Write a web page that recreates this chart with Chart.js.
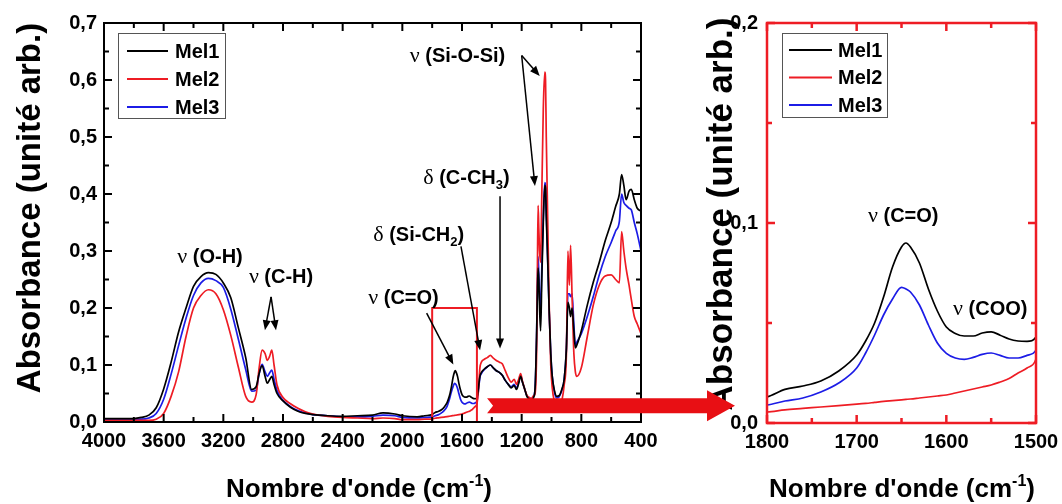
<!DOCTYPE html>
<html>
<head>
<meta charset="utf-8">
<script src="https://cdn.jsdelivr.net/npm/chart.js@4.4.1/dist/chart.umd.min.js"></script>
<style>
  html, body { margin: 0; padding: 0; background: #fff; }
  #wrap { position: relative; width: 1062px; height: 504px; overflow: hidden; }
  canvas { position: absolute; top: 0; }
  #main { left: 0; }
  #zoom { left: 660px; }
  #over { left: 0; pointer-events: none; }
</style>
</head>
<body>
<div id="wrap">
  <canvas id="main" width="660" height="504"></canvas>
  <canvas id="zoom" width="402" height="504"></canvas>
  <canvas id="over" width="1062" height="504"></canvas>
</div>
<script>
// wavenumber grid (cm-1) shared by the three spectra
const wavenumber = [
  4000, 3900, 3800, 3750, 3700, 3650, 3600, 3550, 3500, 3450,
  3400, 3350, 3300, 3250, 3200, 3150, 3100, 3050, 3010, 2980,
  2960, 2940, 2920, 2905, 2890, 2875, 2860, 2840, 2800, 2750,
  2700, 2650, 2600, 2500, 2400, 2300, 2200, 2130, 2050, 2000,
  1900, 1850, 1800, 1780, 1760, 1740, 1720, 1700, 1690, 1680,
  1670, 1660, 1650, 1645, 1640, 1630, 1620, 1610, 1600, 1590,
  1580, 1570, 1560, 1550, 1540, 1530, 1520, 1510, 1500, 1490,
  1480, 1470, 1450, 1430, 1410, 1390, 1370, 1350, 1330, 1310,
  1290, 1270, 1250, 1235, 1220, 1207, 1195, 1180, 1165, 1150,
  1135, 1120, 1110, 1100, 1095, 1090, 1085, 1080, 1073, 1065,
  1055, 1045, 1040, 1035, 1025, 1015, 1005, 995, 980, 965,
  950, 930, 915, 900, 890, 880, 872, 862, 850, 840,
  830, 800, 760, 720, 680, 640, 600, 570, 545, 530,
  515, 500, 480, 465, 445, 425, 400
];

const mel1 = [
  0.006, 0.006, 0.006, 0.008, 0.012, 0.025, 0.058, 0.105, 0.158, 0.2,
  0.238, 0.255, 0.262, 0.259, 0.244, 0.218, 0.166, 0.113, 0.057, 0.062,
  0.085, 0.099, 0.08, 0.068, 0.074, 0.08, 0.066, 0.05, 0.037, 0.026,
  0.019, 0.015, 0.013, 0.011, 0.01, 0.011, 0.012, 0.016, 0.014, 0.011,
  0.009, 0.011, 0.013, 0.0168, 0.0185, 0.021, 0.026, 0.034, 0.041, 0.05,
  0.063, 0.078, 0.088, 0.09, 0.088, 0.08, 0.067, 0.056, 0.048, 0.0448,
  0.0435, 0.0435, 0.045, 0.0456, 0.0439, 0.042, 0.041, 0.0408, 0.043, 0.06,
  0.08, 0.087, 0.093, 0.097, 0.1, 0.095, 0.09, 0.087, 0.082, 0.073,
  0.066, 0.06, 0.064, 0.057, 0.068, 0.08, 0.07, 0.058, 0.045, 0.04,
  0.038, 0.043, 0.06, 0.15, 0.22, 0.27, 0.25, 0.2, 0.16, 0.25,
  0.35, 0.415, 0.41, 0.36, 0.28, 0.19, 0.12, 0.08, 0.055, 0.045,
  0.046, 0.058, 0.075, 0.13, 0.21, 0.2, 0.185, 0.2, 0.16, 0.13,
  0.135, 0.16, 0.205, 0.245, 0.28, 0.318, 0.35, 0.378, 0.4, 0.434,
  0.415, 0.39, 0.405, 0.408, 0.39, 0.375, 0.37
];

const mel2 = [
  0.003, 0.003, 0.003, 0.003, 0.003, 0.005, 0.015, 0.045, 0.088, 0.15,
  0.2, 0.222, 0.232, 0.225, 0.197, 0.152, 0.097, 0.045, 0.035, 0.048,
  0.095, 0.126, 0.12, 0.108, 0.115, 0.126, 0.1, 0.065, 0.043, 0.032,
  0.024, 0.018, 0.014, 0.01, 0.008, 0.007, 0.006, 0.007, 0.006, 0.004,
  0.004, 0.005, 0.0055, 0.0066, 0.0073, 0.008, 0.0087, 0.0094, 0.0098, 0.0103,
  0.0108, 0.0112, 0.0116, 0.0118, 0.012, 0.0125, 0.013, 0.0135, 0.014, 0.015,
  0.016, 0.017, 0.018, 0.019, 0.0205, 0.0222, 0.025, 0.0275, 0.032, 0.055,
  0.095, 0.105, 0.11, 0.113, 0.117, 0.112, 0.108, 0.105, 0.102, 0.09,
  0.078, 0.07, 0.075, 0.066, 0.075, 0.085, 0.072, 0.058, 0.047, 0.043,
  0.041, 0.046, 0.05, 0.12, 0.25, 0.38, 0.34, 0.3, 0.28, 0.4,
  0.55, 0.614, 0.6, 0.5, 0.35, 0.2, 0.1, 0.06, 0.035, 0.026,
  0.025, 0.038, 0.065, 0.12, 0.3, 0.24, 0.31, 0.22, 0.12, 0.088,
  0.08, 0.095, 0.15, 0.205, 0.24, 0.256, 0.258, 0.25, 0.244, 0.334,
  0.3, 0.27, 0.24, 0.215, 0.185, 0.172, 0.155
];

const mel3 = [
  0.005, 0.005, 0.005, 0.005, 0.007, 0.015, 0.04, 0.084, 0.134, 0.182,
  0.222, 0.244, 0.252, 0.248, 0.236, 0.198, 0.146, 0.092, 0.054, 0.056,
  0.085, 0.101, 0.088, 0.08, 0.086, 0.091, 0.075, 0.055, 0.038, 0.027,
  0.02, 0.016, 0.013, 0.011, 0.009, 0.009, 0.01, 0.012, 0.011, 0.008,
  0.007, 0.008, 0.009, 0.011, 0.0125, 0.0155, 0.02, 0.0275, 0.035, 0.044,
  0.054, 0.062, 0.0678, 0.067, 0.0655, 0.059, 0.049, 0.04, 0.0348, 0.0325,
  0.0318, 0.0328, 0.0343, 0.035, 0.0338, 0.0325, 0.0325, 0.0338, 0.0364, 0.055,
  0.078, 0.085, 0.092, 0.097, 0.1, 0.095, 0.09, 0.087, 0.082, 0.073,
  0.066, 0.062, 0.066, 0.059, 0.07, 0.082, 0.07, 0.058, 0.046, 0.043,
  0.041, 0.045, 0.06, 0.15, 0.23, 0.29, 0.26, 0.22, 0.2, 0.27,
  0.36, 0.42, 0.415, 0.37, 0.28, 0.19, 0.12, 0.08, 0.052, 0.042,
  0.044, 0.056, 0.075, 0.13, 0.225, 0.225, 0.22, 0.225, 0.17, 0.135,
  0.14, 0.155, 0.185, 0.22, 0.258, 0.29, 0.315, 0.335, 0.352, 0.4,
  0.385, 0.38, 0.375, 0.372, 0.35, 0.33, 0.3
];

const seriesNames = ['Mel1', 'Mel2', 'Mel3'];
const seriesColors = ['#000000', '#ee1c24', '#1c1ce6'];
const seriesValues = [mel1, mel2, mel3];

const SANS = '"Liberation Sans", Arial, sans-serif';
const SERIF = '"Liberation Serif", "Times New Roman", serif';
const RED = '#ee1c24';

const greek = s => ({ t: s + ' ', font: '22px ' + SERIF });
const bold = s => ({ t: s, font: 'bold 20px ' + SANS });
const sub = s => ({ t: s, font: 'bold 13px ' + SANS, dy: 5 });

// band labels, placed in data coordinates (wavenumber, absorbance)
const mainNotes = [
  { parts: [greek('ν'), bold('(O-H)')], x: 3289, y: 0.279 },
  { parts: [greek('ν'), bold('(C-H)')], x: 2813, y: 0.244 },
  { parts: [greek('ν'), bold('(C=O)')], x: 1992, y: 0.207 },
  { parts: [greek('δ'), bold('(Si-CH'), sub('2'), bold(')')], x: 1890, y: 0.318 },
  { parts: [greek('δ'), bold('(C-CH'), sub('3'), bold(')')], x: 1570, y: 0.418 },
  { parts: [greek('ν'), bold('(Si-O-Si)')], x: 1630, y: 0.631 }
];
const mainArrows = [
  [2880, 0.2195, 2921, 0.161],
  [2880, 0.2195, 2847, 0.161],
  [1837, 0.191, 1658, 0.101],
  [1607, 0.308, 1479, 0.126],
  [1345, 0.396, 1345, 0.129],
  [1200, 0.643, 1079, 0.607],
  [1200, 0.643, 1111, 0.414]
];
const zoomNotes = [
  { parts: [greek('ν'), bold('(C=O)')], x: 1648, y: 0.1007 },
  { parts: [greek('ν'), bold('(COO)')], x: 1551, y: 0.0539 }
];

function drawRich(ctx, parts, cx, y) {
  let w = 0;
  parts.forEach(p => { ctx.font = p.font; w += ctx.measureText(p.t).width; });
  let x = cx - w / 2;
  ctx.textAlign = 'left';
  ctx.textBaseline = 'alphabetic';
  parts.forEach(p => {
    ctx.font = p.font;
    ctx.fillText(p.t, x, y + (p.dy || 0));
    x += ctx.measureText(p.t).width;
  });
}

function arrow(ctx, x0, y0, x1, y1) {
  const ang = Math.atan2(y1 - y0, x1 - x0);
  const L = 10, W = 4;
  ctx.beginPath();
  ctx.moveTo(x0, y0);
  ctx.lineTo(x1 - Math.cos(ang) * L * 0.8, y1 - Math.sin(ang) * L * 0.8);
  ctx.stroke();
  ctx.beginPath();
  ctx.moveTo(x1, y1);
  ctx.lineTo(x1 - Math.cos(ang) * L + Math.sin(ang) * W, y1 - Math.sin(ang) * L - Math.cos(ang) * W);
  ctx.lineTo(x1 - Math.cos(ang) * L - Math.sin(ang) * W, y1 - Math.sin(ang) * L + Math.cos(ang) * W);
  ctx.closePath();
  ctx.fill();
}

// frame with inward ticks on all four sides, legend, titles and notes
const decorPlugin = {
  id: 'decor',
  afterDatasetsDraw(chart, args, o) {
    const { ctx, chartArea: a, scales: { x, y } } = chart;
    ctx.save();

    if (o.box) {
      const bx0 = x.getPixelForValue(o.box[0]), bx1 = x.getPixelForValue(o.box[1]);
      const by0 = y.getPixelForValue(o.box[2]), by1 = y.getPixelForValue(o.box[3]);
      ctx.strokeStyle = RED;
      ctx.lineWidth = 2;
      ctx.strokeRect(bx0, by1, bx1 - bx0, by0 - by1);
    }

    // notes and arrows
    ctx.fillStyle = '#000';
    (o.notes || []).forEach(n => drawRich(ctx, n.parts, x.getPixelForValue(n.x), y.getPixelForValue(n.y)));
    ctx.strokeStyle = '#000';
    ctx.lineWidth = 1.5;
    (o.arrows || []).forEach(r => arrow(ctx,
      x.getPixelForValue(r[0]), y.getPixelForValue(r[1]),
      x.getPixelForValue(r[2]), y.getPixelForValue(r[3])));

    // frame
    ctx.strokeStyle = o.color;
    ctx.lineWidth = o.width;
    ctx.strokeRect(a.left, a.top, a.right - a.left, a.bottom - a.top);
    ctx.beginPath();
    const nx = Math.round((x.max - x.min) / o.xMinor);
    for (let i = 0; i <= nx; i++) {
      const v = x.min + i * o.xMinor;
      const major = Math.abs(v / o.xMajor - Math.round(v / o.xMajor)) < 1e-6;
      const len = major ? 8 : 5, px = x.getPixelForValue(v);
      ctx.moveTo(px, a.bottom); ctx.lineTo(px, a.bottom - len);
      ctx.moveTo(px, a.top); ctx.lineTo(px, a.top + len);
    }
    const ny = Math.round((y.max - y.min) / o.yMinor);
    for (let i = 0; i <= ny; i++) {
      const v = y.min + i * o.yMinor;
      const major = Math.abs(v / o.yMajor - Math.round(v / o.yMajor)) < 1e-6;
      const len = major ? 8 : 5, py = y.getPixelForValue(v);
      ctx.moveTo(a.left, py); ctx.lineTo(a.left + len, py);
      ctx.moveTo(a.right, py); ctx.lineTo(a.right - len, py);
    }
    ctx.stroke();

    // legend
    const lg = o.legend;
    const lx = a.left + lg.dx, ly = a.top + lg.dy;
    ctx.fillStyle = '#fff';
    ctx.fillRect(lx, ly, lg.w, lg.h);
    ctx.strokeStyle = '#555';
    ctx.lineWidth = 1;
    ctx.strokeRect(lx + 0.5, ly + 0.5, lg.w, lg.h);
    ctx.font = 'bold 20px ' + SANS;
    ctx.textAlign = 'left';
    ctx.textBaseline = 'middle';
    chart.data.datasets.forEach((ds, i) => {
      const ry = ly + lg.row0 + i * lg.gap;
      ctx.strokeStyle = ds.borderColor;
      ctx.lineWidth = 1.8;
      ctx.beginPath();
      ctx.moveTo(lx + lg.s0, ry); ctx.lineTo(lx + lg.s1, ry);
      ctx.stroke();
      ctx.fillStyle = '#000';
      ctx.fillText(ds.label, lx + lg.tx, ry + 1);
    });
    ctx.restore();
  },
  afterDraw(chart, args, o) {
    const { ctx } = chart;
    ctx.save();
    ctx.fillStyle = '#000';
    // x title with superscript
    const t = o.xTitle;
    const big = 'bold 26px ' + SANS, small = 'bold 16px ' + SANS;
    drawRich(ctx, [
      { t: "Nombre d'onde (cm", font: big },
      { t: '-1', font: small, dy: -11 },
      { t: ')', font: big }
    ], t.cx, t.y);
    // y title
    const yt = o.yTitle;
    ctx.translate(yt.x, yt.cy);
    ctx.rotate(-Math.PI / 2);
    ctx.font = 'bold ' + yt.size + 'px ' + SANS;
    ctx.textAlign = 'center';
    ctx.textBaseline = 'alphabetic';
    ctx.fillText('Absorbance (unité arb.)', 0, 0);
    ctx.restore();
  }
};

function makeDatasets() {
  return seriesNames.map((name, s) => ({
    label: name,
    data: wavenumber.map((w, i) => ({ x: w, y: seriesValues[s][i] })),
    borderColor: seriesColors[s],
    borderWidth: 1.7,
    pointRadius: 0,
    cubicInterpolationMode: 'monotone',
    fill: false
  }));
}

const comma = v => Number(v).toFixed(1).replace('.', ',');
const tickFont = { family: SANS, size: 20, weight: 'bold' };

function baseOptions(cfg) {
  return {
    responsive: false,
    animation: false,
    events: [],
    layout: { padding: { top: 23, right: cfg.padRight, left: 0, bottom: 0 } },
    plugins: {
      legend: { display: false },
      tooltip: { enabled: false },
      decor: cfg.decor
    },
    scales: {
      x: {
        type: 'linear', reverse: true, min: cfg.xMin, max: cfg.xMax,
        grid: { display: false, drawTicks: false }, border: { display: false },
        ticks: { stepSize: cfg.xStep, autoSkip: false, maxRotation: 0, padding: 7,
                 color: '#000', font: tickFont, callback: v => String(v) },
        afterFit: sc => { sc.height = cfg.xHeight; sc.paddingLeft = 0; sc.paddingRight = 0; }
      },
      y: {
        min: 0, max: cfg.yMax,
        grid: { display: false, drawTicks: false }, border: { display: false },
        ticks: { stepSize: 0.1, autoSkip: false, padding: cfg.yPad,
                 color: '#000', font: tickFont, callback: comma },
        afterFit: sc => { sc.width = cfg.yWidth; sc.paddingTop = 0; sc.paddingBottom = 0; }
      }
    }
  };
}

const mainChart = new Chart(document.getElementById('main'), {
  type: 'line',
  data: { datasets: makeDatasets() },
  options: baseOptions({
    padRight: 19, xMin: 400, xMax: 4000, xStep: 400, xHeight: 82,
    yMax: 0.7, yWidth: 104, yPad: 7,
    decor: {
      color: '#000', width: 2, xMajor: 400, xMinor: 200, yMajor: 0.1, yMinor: 0.05,
      box: [1800, 1500, 0, 0.2],
      notes: mainNotes, arrows: mainArrows,
      legend: { dx: 14, dy: 10, w: 107, h: 85, row0: 18, gap: 28, s0: 9, s1: 50, tx: 57 },
      xTitle: { cx: 359, y: 497 },
      yTitle: { x: 40, cy: 208, size: 33 }
    }
  }),
  plugins: [decorPlugin]
});

const zoomChart = new Chart(document.getElementById('zoom'), {
  type: 'line',
  data: { datasets: makeDatasets() },
  options: baseOptions({
    padRight: 26, xMin: 1500, xMax: 1800, xStep: 100, xHeight: 81,
    yMax: 0.2, yWidth: 107, yPad: 9,
    decor: {
      color: RED, width: 2.5, xMajor: 100, xMinor: 50, yMajor: 0.1, yMinor: 0.05,
      notes: zoomNotes, arrows: [],
      legend: { dx: 15, dy: 10, w: 105, h: 84, row0: 17, gap: 27.5, s0: 7, s1: 50, tx: 56 },
      xTitle: { cx: 242, y: 497 },
      yTitle: { x: 72, cy: 214, size: 35 }
    }
  }),
  plugins: [decorPlugin]
});

// big red arrow linking the boxed region to the enlarged view
(function drawLink() {
  const ctx = document.getElementById('over').getContext('2d');
  const xs = mainChart.scales.x, ys = mainChart.scales.y;
  const tail = xs.getPixelForValue(1432);
  const cy = ys.getPixelForValue(0.0285);
  const tip = 660 + zoomChart.chartArea.left - 32;
  const head = 28, hb = 7.5, hh = 15.5;
  ctx.fillStyle = '#e80f14';
  ctx.beginPath();
  ctx.moveTo(tail, cy - hb);
  ctx.lineTo(tip - head, cy - hb);
  ctx.lineTo(tip - head, cy - hh);
  ctx.lineTo(tip, cy);
  ctx.lineTo(tip - head, cy + hh);
  ctx.lineTo(tip - head, cy + hb);
  ctx.lineTo(tail, cy + hb);
  ctx.lineTo(tail + 6, cy);
  ctx.closePath();
  ctx.fill();
})();
</script>
</body>
</html>
